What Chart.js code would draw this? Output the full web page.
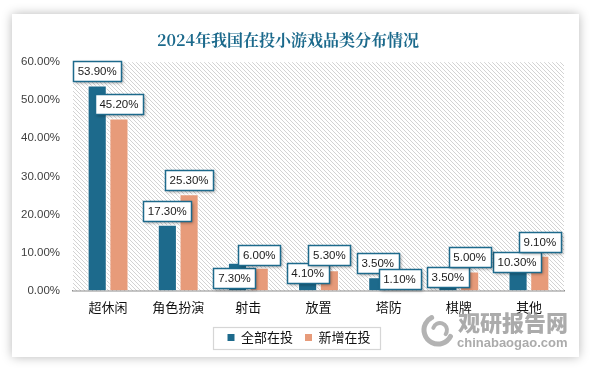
<!DOCTYPE html>
<html>
<head>
<meta charset="utf-8">
<script src="https://cdn.jsdelivr.net/npm/chart.js@4.4.0/dist/chart.umd.min.js"></script>
<style>
    html, body { margin: 0; padding: 0; background: #ffffff; }
    body { width: 590px; height: 373px; position: relative; overflow: hidden; }
    #card {
        position: absolute; left: 12px; top: 14px; width: 567px; height: 343px;
        background: #ffffff; box-shadow: 0 0 10px rgba(0, 0, 0, 0.28);
    }
    #card canvas { display: block; }
</style>
</head>
<body>
<div id="card"><canvas id="gameChart" width="567" height="343"></canvas></div>
<script>
const categories = ['超休闲', '角色扮演', '射击', '放置', '塔防', '棋牌', '其他'];
const seriesNames = ['全部在投', '新增在投'];
const allInvest = [53.9, 17.3, 7.3, 4.1, 3.5, 3.5, 10.3];
const newInvest = [45.2, 25.3, 6.0, 5.3, 1.1, 5.0, 9.1];
const yTicks = [0, 10, 20, 30, 40, 50, 60];

// hand-placed label nudges, like the excel source (px from the bar top)
const labelOffsetY = [[-14.5, -14, 15, -2, -14, 0, 11], [-14.5, -14, -13, -15, -7.5, -14, -14]];
const labelOffsetX = [[0, 0, -3, 0, 0, 0, -1], [0, 0, 0, 0, 0, 0, 0]];

const BLUE = '#1d6a8c';
const SALMON = '#e79b7a';

function makeHatch() {
    const tile = document.createElement('canvas');
    tile.width = 4;
    tile.height = 4;
    const t = tile.getContext('2d');
    t.fillStyle = '#ffffff';
    t.fillRect(0, 0, 4, 4);
    t.fillStyle = '#d3d3d3';
    for (let i = 0; i < 4; i++) {
        t.fillRect(i, i, 1, 1);
    }
    return tile;
}

const hatchPlugin = {
    id: 'hatch',
    beforeDatasetsDraw(chart) {
        const {ctx, chartArea} = chart;
        ctx.save();
        ctx.fillStyle = ctx.createPattern(makeHatch(), 'repeat');
        ctx.fillRect(chartArea.left, chartArea.top, chartArea.right - chartArea.left, chartArea.bottom - chartArea.top);
        ctx.restore();
    }
};

const boxLabelPlugin = {
    id: 'boxLabels',
    afterDatasetsDraw(chart) {
        const ctx = chart.ctx;
        ctx.save();
        ctx.font = '11.5px "Liberation Sans", Arial, sans-serif';
        ctx.textAlign = 'center';
        ctx.textBaseline = 'middle';
        chart.data.datasets.forEach((ds, di) => {
            chart.getDatasetMeta(di).data.forEach((bar, i) => {
                const text = ds.data[i].toFixed(2) + '%';
                const w = Math.round(ctx.measureText(text).width + 9);
                const h = 20;
                const cx = bar.x + labelOffsetX[di][i];
                const cy = bar.y + labelOffsetY[di][i];
                const x = Math.round(cx - w / 2) + 0.5;
                const y = Math.round(cy - h / 2) + 0.5;
                ctx.shadowColor = 'rgba(0,0,0,0.35)';
                ctx.shadowBlur = 3;
                ctx.shadowOffsetX = 1.5;
                ctx.shadowOffsetY = 1.5;
                ctx.fillStyle = '#ffffff';
                ctx.fillRect(x, y, w, h);
                ctx.shadowColor = 'transparent';
                ctx.lineWidth = 1.5;
                ctx.strokeStyle = BLUE;
                ctx.strokeRect(x, y, w, h);
                ctx.fillStyle = '#1a1a1a';
                ctx.fillText(text, cx, y + h / 2 + 0.5);
            });
        });
        ctx.restore();
    }
};

const legendFramePlugin = {
    id: 'legendFrame',
    afterLayout(chart) {
        // the source legend sits a bit right of centre
        chart.legend.left += 11;
        chart.legend.right += 11;
    },
    afterDraw(chart) {
        const boxes = chart.legend.legendHitBoxes;
        if (!boxes || !boxes.length) return;
        const ctx = chart.ctx;
        const first = boxes[0];
        const last = boxes[boxes.length - 1];
        const left = Math.round(first.left - 14) + 0.5;
        const right = Math.round(last.left + last.width + 9) + 0.5;
        const top = Math.round(first.top - 4) + 0.5;
        const bottom = Math.round(first.top + first.height + 5) + 0.5;
        ctx.save();
        ctx.strokeStyle = '#d6d6d6';
        ctx.lineWidth = 1.2;
        ctx.strokeRect(left, top, right - left, bottom - top);
        ctx.restore();
    }
};

const watermarkPlugin = {
    id: 'watermark',
    afterDraw(chart) {
        const ctx = chart.ctx;
        ctx.save();
        ctx.globalAlpha = 0.75;
        ctx.strokeStyle = '#9a9a9a';
        ctx.lineCap = 'round';
        ctx.lineWidth = 5;
        ctx.beginPath();
        ctx.arc(426, 316, 14, Math.PI * 0.15, Math.PI * 1.35);
        ctx.stroke();
        ctx.lineWidth = 4;
        ctx.beginPath();
        ctx.arc(428, 316, 7, Math.PI * 1.1, Math.PI * 2.2);
        ctx.stroke();
        ctx.fillStyle = '#8f8f8f';
        ctx.textBaseline = 'middle';
        ctx.textAlign = 'left';
        ctx.font = '900 22px "Noto Sans CJK SC", sans-serif';
        ctx.fillText('观研报告网', 446, 309);
        ctx.font = 'bold 13px "Liberation Sans", Arial, sans-serif';
        ctx.fillText('chinabaogao.com', 445, 329);
        ctx.restore();
    }
};

const ctx = document.getElementById('gameChart').getContext('2d');
new Chart(ctx, {
    type: 'bar',
    data: {
        labels: categories,
        datasets: [
            {label: seriesNames[0], data: allInvest, backgroundColor: BLUE, borderColor: '#ffffff', borderWidth: 1},
            {label: seriesNames[1], data: newInvest, backgroundColor: SALMON, borderColor: '#ffffff', borderWidth: 1}
        ]
    },
    options: {
        responsive: false,
        animation: false,
        events: [],
        datasets: {
            bar: {categoryPercentage: 0.62, barPercentage: 0.88}
        },
        layout: {padding: {left: 0, right: 15, top: 0, bottom: 3}},
        plugins: {
            title: {
                display: true,
                text: '2024年我国在投小游戏品类分布情况',
                color: '#1c6a8c',
                font: {family: '"Noto Serif CJK SC", "Noto Sans CJK SC", serif', size: 16, weight: 'bold'},
                padding: {top: 16, bottom: 13}
            },
            legend: {
                position: 'bottom',
                labels: {
                    boxWidth: 7,
                    boxHeight: 7,
                    padding: 12,
                    color: '#111111',
                    font: {family: '"Noto Sans CJK SC", sans-serif', size: 13},
                    generateLabels(chart) {
                        return Chart.defaults.plugins.legend.labels.generateLabels(chart).map(item => {
                            item.lineWidth = 0;
                            return item;
                        });
                    }
                }
            },
            tooltip: {enabled: false}
        },
        scales: {
            x: {
                grid: {display: false, drawTicks: false},
                border: {display: true, color: '#8c8c8c', width: 1.5},
                ticks: {
                    color: '#111111',
                    padding: 9,
                    font: {family: '"Noto Sans CJK SC", sans-serif', size: 13}
                },
                afterFit(scale) {
                    scale.height = 28.5;
                }
            },
            y: {
                min: 0,
                max: 60,
                grid: {display: false, drawTicks: false},
                border: {display: false},
                afterBuildTicks(scale) {
                    scale.ticks = yTicks.map(v => ({value: v}));
                },
                ticks: {
                    color: '#404040',
                    padding: 13,
                    font: {family: '"Liberation Sans", Arial, sans-serif', size: 11.5},
                    callback: v => v.toFixed(2) + '%'
                },
                afterFit(scale) {
                    scale.width = 61;
                }
            }
        }
    },
    plugins: [hatchPlugin, boxLabelPlugin, legendFramePlugin, watermarkPlugin]
});
</script>
</body>
</html>
